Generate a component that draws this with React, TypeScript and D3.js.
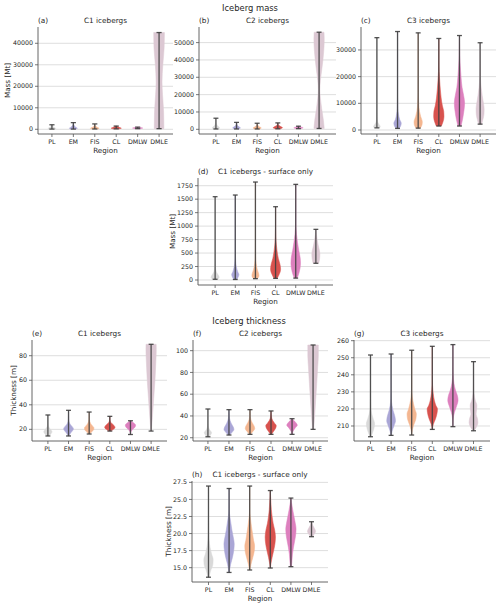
import React from "react";
import * as d3 from "d3";

type Knot = [number, number];

const regions = ["PL", "EM", "FIS", "CL", "DMLW", "DMLE"];
const regionColors = ["#d9d9d9", "#aaa6d6", "#f4b690", "#d8524e", "#dd80be", "#dcc8d3"];

// (a) C1 iceberg mass [Mt]
const massC1Min = [100, 100, 150, 200, 300, 300];
const massC1Max = [2100, 3100, 2500, 1500, 1000, 45000];
const massC1Shape: Knot[][] = [
  [[100, 0.5], [400, 0.75], [800, 0.45], [1300, 0.15], [2100, 0.02]],
  [[100, 0.35], [500, 0.75], [1000, 0.45], [2000, 0.1], [3100, 0.02]],
  [[150, 0.5], [500, 0.8], [1000, 0.4], [1700, 0.1], [2500, 0.02]],
  [[200, 0.55], [500, 0.95], [900, 0.55], [1500, 0.05]],
  [[300, 0.5], [600, 0.95], [1000, 0.1]],
  [[300, 0.9], [8000, 0.85], [16000, 0.65], [22000, 0.55], [30000, 0.7], [38000, 0.95], [45000, 1.0]],
];

// (b) C2 iceberg mass [Mt]
const massC2Min = [200, 200, 200, 300, 400, 500];
const massC2Max = [6400, 4000, 3500, 3700, 1800, 56000];
const massC2Shape: Knot[][] = [
  [[200, 0.55], [900, 0.7], [2000, 0.3], [4000, 0.06], [6400, 0.01]],
  [[200, 0.4], [800, 0.75], [1600, 0.4], [2800, 0.08], [4000, 0.01]],
  [[200, 0.5], [800, 0.8], [1500, 0.4], [2500, 0.08], [3500, 0.01]],
  [[300, 0.5], [900, 0.9], [1700, 0.5], [2700, 0.1], [3700, 0.02]],
  [[400, 0.4], [900, 0.9], [1400, 0.4], [1800, 0.05]],
  [[500, 1.0], [5000, 0.85], [12000, 0.5], [18000, 0.25], [23000, 0.15], [28000, 0.25], [35000, 0.55], [45000, 0.9], [52000, 1.0], [56000, 0.95]],
];

// (c) C3 iceberg mass [Mt]
const massC3Min = [800, 600, 700, 1500, 1500, 2200];
const massC3Max = [34600, 36900, 36400, 34300, 35400, 32700];
const massC3Shape: Knot[][] = [
  [[800, 0.5], [1300, 0.65], [2000, 0.45], [3000, 0.15], [5000, 0.04], [10000, 0.01], [34600, 0]],
  [[600, 0.3], [1500, 0.6], [2500, 0.72], [4000, 0.4], [6000, 0.18], [8000, 0.06], [12000, 0.02], [36900, 0]],
  [[700, 0.4], [2000, 0.75], [3000, 0.8], [5000, 0.5], [7000, 0.25], [10000, 0.1], [14000, 0.03], [36400, 0]],
  [[1500, 0.5], [3000, 0.8], [5000, 1.0], [7000, 0.95], [9000, 0.7], [12000, 0.45], [15000, 0.3], [18000, 0.18], [22000, 0.06], [26000, 0.02], [34300, 0]],
  [[1500, 0.3], [4000, 0.6], [7000, 0.85], [10000, 1.0], [13000, 0.8], [16000, 0.5], [20000, 0.3], [24000, 0.15], [28000, 0.05], [35400, 0]],
  [[2200, 0.3], [4000, 0.55], [6000, 0.75], [8000, 0.78], [10000, 0.65], [13000, 0.4], [16000, 0.2], [20000, 0.06], [25000, 0.02], [32700, 0]],
];

// (d) C1 surface-only iceberg mass [Mt]
const massC1SurfMin = [13, 10, 25, 30, 35, 310];
const massC1SurfMax = [1546, 1577, 1818, 1360, 1775, 940];
const massC1SurfShape: Knot[][] = [
  [[13, 0.5], [50, 0.8], [100, 0.55], [150, 0.25], [250, 0.06], [400, 0.02], [1546, 0]],
  [[10, 0.3], [60, 0.6], [100, 0.72], [150, 0.5], [250, 0.2], [350, 0.08], [500, 0.02], [1577, 0]],
  [[25, 0.4], [80, 0.7], [130, 0.6], [200, 0.35], [300, 0.15], [450, 0.04], [700, 0.01], [1818, 0]],
  [[30, 0.3], [100, 0.7], [200, 1.0], [300, 0.85], [400, 0.55], [500, 0.35], [650, 0.15], [800, 0.05], [1000, 0.01], [1360, 0]],
  [[35, 0.3], [150, 0.7], [300, 0.95], [400, 0.9], [550, 0.6], [700, 0.35], [850, 0.15], [1000, 0.05], [1300, 0.01], [1775, 0]],
  [[310, 0.55], [400, 0.75], [480, 0.8], [550, 0.7], [650, 0.45], [750, 0.25], [850, 0.1], [940, 0.04]],
];

// (e) C1 iceberg thickness [m]
const thickC1Min = [14.6, 14.6, 16.2, 18.6, 15.8, 18.6];
const thickC1Max = [31.7, 35.5, 34.1, 30.6, 27.0, 89.3];
const thickC1Shape: Knot[][] = [
  [[14.6, 0.2], [16.5, 0.6], [18, 0.8], [19.5, 0.6], [21, 0.3], [23, 0.1], [26, 0.03], [31.7, 0]],
  [[14.6, 0.1], [17, 0.4], [19, 0.8], [20.5, 0.95], [22, 0.75], [24, 0.35], [26, 0.12], [29, 0.04], [35.5, 0]],
  [[16.2, 0.1], [18, 0.5], [20, 0.9], [21.5, 0.9], [23, 0.6], [25, 0.25], [28, 0.06], [34.1, 0]],
  [[18.6, 0.2], [20, 0.7], [21.5, 1.0], [23, 0.85], [24.5, 0.45], [26, 0.15], [28, 0.04], [30.6, 0]],
  [[15.8, 0.02], [18, 0.1], [20, 0.45], [22, 0.9], [23.5, 1.0], [25, 0.7], [26, 0.35], [27, 0.1]],
  [[18.6, 0.05], [30, 0.25], [45, 0.5], [60, 0.75], [75, 0.92], [85, 1.0], [89.3, 0.98]],
];

// (f) C2 iceberg thickness [m]
const thickC2Min = [20.9, 22.5, 23.1, 23.1, 23.1, 27.7];
const thickC2Max = [46.4, 45.8, 45.8, 44.6, 37.5, 105.2];
const thickC2Shape: Knot[][] = [
  [[20.9, 0.2], [23, 0.55], [24.6, 0.7], [26.5, 0.45], [29, 0.15], [33, 0.04], [40, 0.01], [46.4, 0]],
  [[22.5, 0.15], [25, 0.6], [27.5, 0.95], [30, 0.8], [33, 0.45], [36, 0.2], [40, 0.06], [45.8, 0]],
  [[23.1, 0.1], [25.5, 0.5], [28.5, 0.9], [31, 0.75], [34, 0.4], [37, 0.15], [41, 0.04], [45.8, 0]],
  [[23.1, 0.1], [26, 0.5], [29, 0.9], [31, 1.0], [33.5, 0.65], [36, 0.3], [39, 0.1], [44.6, 0]],
  [[23.1, 0.05], [26, 0.2], [29, 0.6], [31.5, 1.0], [34, 0.7], [36, 0.3], [37.5, 0.05]],
  [[27.7, 0.1], [40, 0.3], [55, 0.5], [70, 0.7], [85, 0.88], [95, 1.0], [105.2, 1.0]],
];

// (g) C3 iceberg thickness [m]
const thickC3Min = [203.7, 204.5, 204.7, 208, 209.6, 207.2];
const thickC3Max = [251.6, 252.2, 254.4, 256.7, 257.7, 247.7];
const thickC3Shape: Knot[][] = [
  [[203.7, 0.1], [206, 0.4], [209, 0.7], [211.5, 0.8], [214, 0.55], [217, 0.25], [221, 0.07], [226, 0.02], [251.6, 0]],
  [[204.5, 0.05], [207, 0.2], [210, 0.55], [213, 0.85], [216, 0.7], [219, 0.4], [222, 0.18], [226, 0.05], [232, 0.01], [252.2, 0]],
  [[204.7, 0.02], [208, 0.15], [211, 0.45], [214, 0.8], [217, 0.9], [220, 0.6], [223, 0.35], [227, 0.12], [232, 0.03], [254.4, 0]],
  [[208, 0.02], [211, 0.2], [214, 0.6], [218, 0.95], [220, 1.0], [222, 0.7], [225, 0.4], [229, 0.18], [234, 0.05], [240, 0.01], [256.7, 0]],
  [[209.6, 0.01], [214, 0.05], [218, 0.3], [222, 0.75], [225, 1.0], [228, 0.85], [231, 0.5], [235, 0.2], [240, 0.05], [245, 0.01], [257.7, 0]],
  [[207.2, 0.1], [209, 0.5], [212, 0.85], [214.5, 0.75], [217, 0.5], [219.5, 0.6], [222, 0.65], [225, 0.35], [229, 0.1], [235, 0.02], [247.7, 0]],
];

// (h) C1 surface-only iceberg thickness [m]
const thickC1SurfMin = [13.6, 14.3, 14.66, 14.95, 15.15, 19.54];
const thickC1SurfMax = [26.96, 26.6, 26.96, 26.3, 25.2, 21.73];
const thickC1SurfShape: Knot[][] = [
  [[13.6, 0.1], [14.5, 0.4], [15.5, 0.85], [16.2, 0.9], [17, 0.6], [18, 0.3], [19, 0.12], [20.5, 0.04], [23, 0.01], [26.96, 0]],
  [[14.3, 0.05], [15.5, 0.3], [16.5, 0.65], [17.5, 0.9], [18.5, 1.0], [19.5, 0.8], [20.5, 0.55], [21.5, 0.35], [22.5, 0.15], [23.5, 0.04], [26.6, 0]],
  [[14.66, 0.05], [15.5, 0.25], [16.5, 0.6], [17.5, 0.9], [18.2, 0.95], [19, 0.75], [20, 0.55], [21, 0.35], [22, 0.18], [23, 0.05], [24.5, 0.01], [26.96, 0]],
  [[14.95, 0.02], [15.5, 0.1], [16.5, 0.35], [17.5, 0.65], [18.5, 0.9], [19.5, 1.0], [20.5, 0.85], [21.5, 0.55], [22.5, 0.35], [23.5, 0.2], [24.5, 0.12], [25.5, 0.05], [26.3, 0.02]],
  [[15.15, 0.1], [16, 0.2], [17, 0.3], [18, 0.5], [19, 0.75], [20, 0.95], [20.7, 1.0], [21.5, 0.85], [22.5, 0.6], [23.5, 0.35], [24.5, 0.12], [25.2, 0.02]],
  [[19.54, 0.2], [20, 0.6], [20.3, 0.8], [20.7, 0.6], [21.2, 0.25], [21.73, 0.05]],
];

const massC1Ticks = [0, 10000, 20000, 30000, 40000];
const massC2Ticks = [0, 10000, 20000, 30000, 40000, 50000];
const massC3Ticks = [0, 10000, 20000, 30000];
const massC1SurfTicks = [0, 250, 500, 750, 1000, 1250, 1500, 1750];
const thickC1Ticks = [20, 40, 60, 80];
const thickC2Ticks = [20, 40, 60, 80, 100];
const thickC3Ticks = [210, 220, 230, 240, 250, 260];
const thickC1SurfTicks = [15, 17.5, 20, 22.5, 25, 27.5];

interface PanelCfg {
  tag: string;
  title: string;
  mins: number[];
  maxs: number[];
  shapes: Knot[][];
  ticks: number[];
  fmt: (v: number) => string;
  domain: [number, number];
  left: number;
  right: number;
  top: number;
  bottom: number;
  g: number;
  ylabel?: string;
  ylabelX?: number;
}

const FONT = "DejaVu Sans, sans-serif";
const TXT = "#262626";
const intFmt = (v: number) => String(v);
const oneFmt = (v: number) => v.toFixed(1);

const panels: PanelCfg[] = [
  { tag: "(a)", title: "C1 icebergs", mins: massC1Min, maxs: massC1Max, shapes: massC1Shape, ticks: massC1Ticks, fmt: intFmt, domain: [-2190, 47580], left: 38, right: 173, top: 27, bottom: 134, g: 0.65, ylabel: "Mass [Mt]", ylabelX: 9.5 },
  { tag: "(b)", title: "C2 icebergs", mins: massC2Min, maxs: massC2Max, shapes: massC2Shape, ticks: massC2Ticks, fmt: intFmt, domain: [-2700, 59000], left: 199, right: 336, top: 27, bottom: 134, g: 0.82 },
  { tag: "(c)", title: "C3 icebergs", mins: massC3Min, maxs: massC3Max, shapes: massC3Shape, ticks: massC3Ticks, fmt: intFmt, domain: [-1500, 38600], left: 361, right: 496, top: 27, bottom: 134, g: 0.77 },
  { tag: "(d)", title: "C1 icebergs - surface only", mins: massC1SurfMin, maxs: massC1SurfMax, shapes: massC1SurfShape, ticks: massC1SurfTicks, fmt: intFmt, domain: [-93, 1893], left: 198, right: 333, top: 178, bottom: 285, g: 0.85, ylabel: "Mass [Mt]", ylabelX: 175.3 },
  { tag: "(e)", title: "C1 icebergs", mins: thickC1Min, maxs: thickC1Max, shapes: thickC1Shape, ticks: thickC1Ticks, fmt: intFmt, domain: [10.5, 92.8], left: 32, right: 167, top: 340, bottom: 441, g: 0.77, ylabel: "Thickness [m]", ylabelX: 16 },
  { tag: "(f)", title: "C2 icebergs", mins: thickC2Min, maxs: thickC2Max, shapes: thickC2Shape, ticks: thickC2Ticks, fmt: intFmt, domain: [17, 109.8], left: 193, right: 328, top: 340, bottom: 441, g: 0.71 },
  { tag: "(g)", title: "C3 icebergs", mins: thickC3Min, maxs: thickC3Max, shapes: thickC3Shape, ticks: thickC3Ticks, fmt: intFmt, domain: [201.2, 260.4], left: 354, right: 490, top: 340, bottom: 441, g: 0.8 },
  { tag: "(h)", title: "C1 icebergs - surface only", mins: thickC1SurfMin, maxs: thickC1SurfMax, shapes: thickC1SurfShape, ticks: thickC1SurfTicks, fmt: oneFmt, domain: [12.9, 27.7], left: 192, right: 328, top: 481, bottom: 582, g: 0.8, ylabel: "Thickness [m]", ylabelX: 170.6 },
];

function Panel({ p }: { p: PanelCfg }) {
  const x = d3.scaleLinear().domain([1 - p.g, regions.length + p.g]).range([p.left, p.right]);
  const y = d3.scaleLinear().domain(p.domain).range([p.bottom, p.top]);
  const hw = x(1.25) - x(1);
  const cap = x(1.12) - x(1);
  return (
    <g>
      {p.ticks.map((t) => (
        <line key={"g" + t} x1={p.left} x2={p.right} y1={y(t)} y2={y(t)} stroke="#dedede" strokeWidth={1} />
      ))}
      {regions.map((r, i) => {
        const cx = x(i + 1);
        const area = d3
          .area<Knot>()
          .y((d) => y(d[0]))
          .x0((d) => cx - d[1] * hw)
          .x1((d) => cx + d[1] * hw)
          .curve(d3.curveMonotoneY);
        return (
          <path key={"v" + r} d={area(p.shapes[i]) || ""} fill={regionColors[i]} stroke={regionColors[i]} strokeWidth={0.5} />
        );
      })}
      {regions.map((r, i) => {
        const cx = x(i + 1);
        const y0 = y(p.mins[i]);
        const y1 = y(p.maxs[i]);
        return (
          <g key={"w" + r} stroke="#404040" strokeWidth={1.3} strokeOpacity={0.9}>
            <line x1={cx} x2={cx} y1={y0} y2={y1} />
            <line x1={cx - cap} x2={cx + cap} y1={y0} y2={y0} />
            <line x1={cx - cap} x2={cx + cap} y1={y1} y2={y1} />
          </g>
        );
      })}
      <line x1={p.left} x2={p.left} y1={p.top} y2={p.bottom} stroke="#555" strokeWidth={0.9} />
      <line x1={p.left} x2={p.right} y1={p.bottom} y2={p.bottom} stroke="#555" strokeWidth={0.9} />
      {p.ticks.map((t) => (
        <g key={"yt" + t}>
          <line x1={p.left - 3} x2={p.left} y1={y(t)} y2={y(t)} stroke="#555" strokeWidth={0.8} />
          <text x={p.left - 5} y={y(t)} dy="0.33em" textAnchor="end" fontSize={6.3} fill={TXT} fontFamily={FONT}>
            {p.fmt(t)}
          </text>
        </g>
      ))}
      {regions.map((r, i) => (
        <g key={"xt" + r}>
          <line x1={x(i + 1)} x2={x(i + 1)} y1={p.bottom} y2={p.bottom + 3} stroke="#555" strokeWidth={0.8} />
          <text x={x(i + 1)} y={p.bottom + 9.5} textAnchor="middle" fontSize={6.3} fill={TXT} fontFamily={FONT}>
            {r}
          </text>
        </g>
      ))}
      <text x={(p.left + p.right) / 2} y={p.bottom + 19} textAnchor="middle" fontSize={7.2} fill={TXT} fontFamily={FONT}>
        Region
      </text>
      {p.ylabel && (
        <text
          transform={`translate(${p.ylabelX},${(p.top + p.bottom) / 2}) rotate(-90)`}
          textAnchor="middle"
          fontSize={7.2}
          fill={TXT}
          fontFamily={FONT}
        >
          {p.ylabel}
        </text>
      )}
      <text x={p.left} y={p.top - 4} fontSize={7.3} fill={TXT} fontFamily={FONT}>
        {p.tag}
      </text>
      <text x={(p.left + p.right) / 2} y={p.top - 4} textAnchor="middle" fontSize={7.3} fill={TXT} fontFamily={FONT}>
        {p.title}
      </text>
    </g>
  );
}

export default function App() {
  return (
    <svg width={500} height={606} style={{ position: "absolute", left: 0, top: 0, background: "#fff" }}>
      <rect width={500} height={606} fill="#fff" />
      <text x={250} y={11} textAnchor="middle" fontSize={8.4} fill={TXT} fontFamily={FONT}>
        Iceberg mass
      </text>
      <text x={249} y={324} textAnchor="middle" fontSize={8.4} fill={TXT} fontFamily={FONT}>
        Iceberg thickness
      </text>
      {panels.map((p) => (
        <Panel key={p.tag} p={p} />
      ))}
    </svg>
  );
}
